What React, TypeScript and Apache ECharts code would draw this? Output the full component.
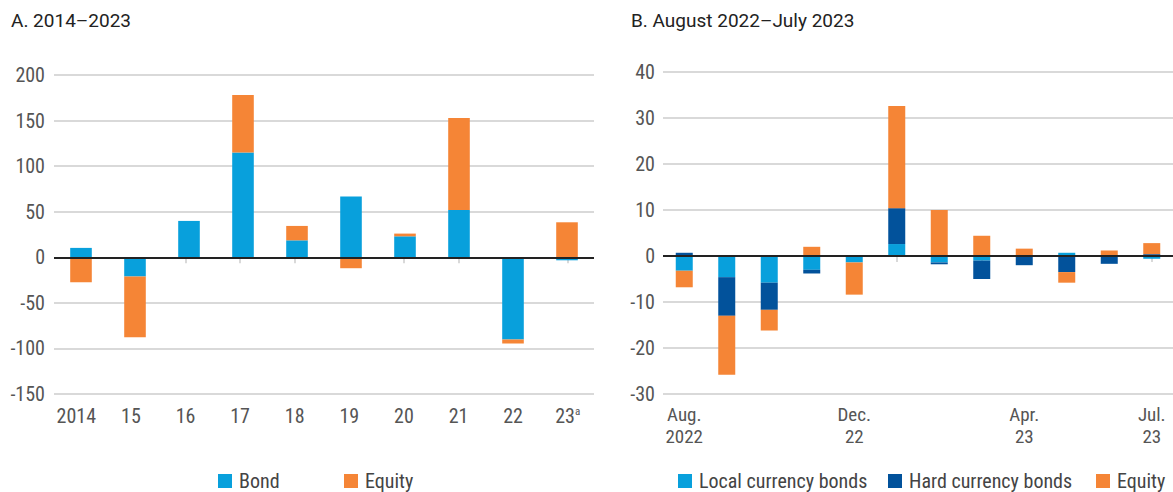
import React, { useEffect, useRef } from "react";
import * as echarts from "echarts";

// ---- Panel A: 2014–2023 ----
const yearCats = ["2014", "15", "16", "17", "18", "19", "20", "21", "22", "23"];
const footnoteYear = "23";
const bondA = [10.3, -21.2, 39.9, 115.1, 18.6, 66.6, 23, 52, -90.2, -3.3];
const equityA = [-27.4, -66.5, -0.8, 62.9, 15.8, -12, 3, 100.9, -4.4, 38.4];
const yTicksA = { min: -150, max: 200, interval: 50 };

// ---- Panel B: August 2022–July 2023 ----
const monthCats = [
  "Aug.\n2022", "Sep.\n22", "Oct.\n22", "Nov.\n22", "Dec.\n22", "Jan.\n23",
  "Feb.\n23", "Mar.\n23", "Apr.\n23", "May\n23", "Jun.\n23", "Jul.\n23",
];
const shownMonthIdx = [0, 4, 8, 11];
const localB = [-3.2, -4.6, -5.8, -3.0, -1.4, 2.6, -1.4, -1.0, 0, 0.7, 0, -0.6];
const hardB = [0.7, -8.4, -5.9, -0.8, 0, 7.8, -0.4, -4.0, -2.0, -3.5, -1.7, 0.4];
const equityB = [-3.6, -12.8, -4.5, 2.0, -7.0, 22.2, 10.0, 4.4, 1.6, -2.3, 1.2, 2.4];
const yTicksB = { min: -30, max: 40, interval: 10 };

const titles = ["A. 2014–2023", "B. August 2022–July 2023"];

const LIGHT = "#08A0DC";
const DARK = "#02529B";
const ORANGE = "#F58536";
const NARROW = "'Liberation Sans Narrow', 'Roboto Condensed', Roboto, sans-serif";
const LABEL = "#555555";
const GRIDC = "#cccccc";
const FS = 20;

export default function App() {
  const ref = useRef<HTMLDivElement>(null);
  useEffect(() => {
    document.body.style.margin = "0";
    const chart = echarts.init(ref.current!, null, { renderer: "svg" });
    const zeroLine = {
      silent: true,
      symbol: ["none", "none"],
      label: { show: false },
      lineStyle: { color: "#222", width: 2, type: "solid" },
      data: [{ yAxis: 0 }],
      animation: false,
    };
    const legendBase = {
      icon: "rect",
      itemWidth: 14,
      itemHeight: 14,
      itemGap: 0,
      padding: 0,
      top: 471,
      textStyle: { fontSize: FS, color: "#444", fontFamily: NARROW, padding: [0, 0, 0, 2] },
    };
    const titleStyle = { fontSize: 19, fontWeight: "normal", color: "#222", fontFamily: "Roboto" };
    const option: any = {
      animation: false,
      title: [
        { text: titles[0], left: 11, top: 11, padding: 0, textStyle: titleStyle },
        { text: titles[1], left: 631, top: 11, padding: 0, textStyle: titleStyle },
      ],
      legend: [
        { ...legendBase, left: 218, data: ["Bond"] },
        { ...legendBase, left: 344, data: ["Equity"] },
        { ...legendBase, left: 678, data: ["Local currency bonds"] },
        { ...legendBase, left: 888, data: ["Hard currency bonds"] },
        { ...legendBase, left: 1096, data: ["Equity"] },
      ],
      grid: [
        { left: 54, width: 540, top: 75, height: 319 },
        { left: 49, width: 546, top: 75, height: 319 },
        { left: 663, width: 512, top: 72, height: 322 },
      ],
      xAxis: [
        { type: "category", gridIndex: 0, data: yearCats, axisLine: { show: false }, axisTick: { show: false }, axisLabel: { show: false } },
        {
          type: "category", gridIndex: 1, data: yearCats,
          axisLine: { show: false },
          axisTick: { show: true, alignWithLabel: true, interval: 0, length: 6, lineStyle: { color: GRIDC, width: 1.5 } },
          axisLabel: {
            interval: 0, margin: 12, fontSize: FS, color: LABEL, fontFamily: NARROW,
            formatter: (v: string) => (v === footnoteYear ? v + "{sup|a}" : v),
            rich: { sup: { fontSize: 11, color: LABEL, fontFamily: NARROW, verticalAlign: "top", padding: [0, 0, 8, 0] } },
          },
        },
        {
          type: "category", gridIndex: 2, data: monthCats,
          axisLine: { show: false },
          axisTick: { show: true, alignWithLabel: true, interval: 0, length: 6, lineStyle: { color: GRIDC, width: 1.5 } },
          axisLabel: {
            margin: 9, fontSize: 19, lineHeight: 22, color: LABEL, fontFamily: NARROW,
            interval: (i: number) => shownMonthIdx.includes(i),
          },
        },
      ],
      yAxis: [
        {
          type: "value", gridIndex: 0, ...yTicksA,
          axisLine: { show: false }, axisTick: { show: false },
          axisLabel: { margin: 9, fontSize: FS, color: LABEL, fontFamily: NARROW },
          splitLine: { lineStyle: { color: GRIDC, width: 1.5 } },
        },
        { type: "value", gridIndex: 1, ...yTicksA, show: false, splitLine: { show: false } },
        {
          type: "value", gridIndex: 2, ...yTicksB,
          axisLine: { show: false }, axisTick: { show: false },
          axisLabel: { margin: 8, fontSize: FS, color: LABEL, fontFamily: NARROW },
          splitLine: { lineStyle: { color: GRIDC, width: 1.5 } },
        },
      ],
      series: [
        { name: "Bond", type: "bar", xAxisIndex: 0, yAxisIndex: 0, stack: "a", data: bondA, barWidth: "40%", itemStyle: { color: LIGHT } },
        { name: "Equity", type: "bar", xAxisIndex: 0, yAxisIndex: 0, stack: "a", data: equityA, barWidth: "40%", itemStyle: { color: ORANGE }, markLine: zeroLine },
        { name: "Local currency bonds", type: "bar", xAxisIndex: 2, yAxisIndex: 2, stack: "b", data: localB, barWidth: "40%", itemStyle: { color: LIGHT } },
        { name: "Hard currency bonds", type: "bar", xAxisIndex: 2, yAxisIndex: 2, stack: "b", data: hardB, barWidth: "40%", itemStyle: { color: DARK } },
        { name: "Equity", type: "bar", xAxisIndex: 2, yAxisIndex: 2, stack: "b", data: equityB, barWidth: "40%", itemStyle: { color: ORANGE }, markLine: zeroLine },
      ],
    };
    chart.setOption(option);
    return () => chart.dispose();
  }, []);
  return <div ref={ref} style={{ width: 1173, height: 492 }} />;
}
